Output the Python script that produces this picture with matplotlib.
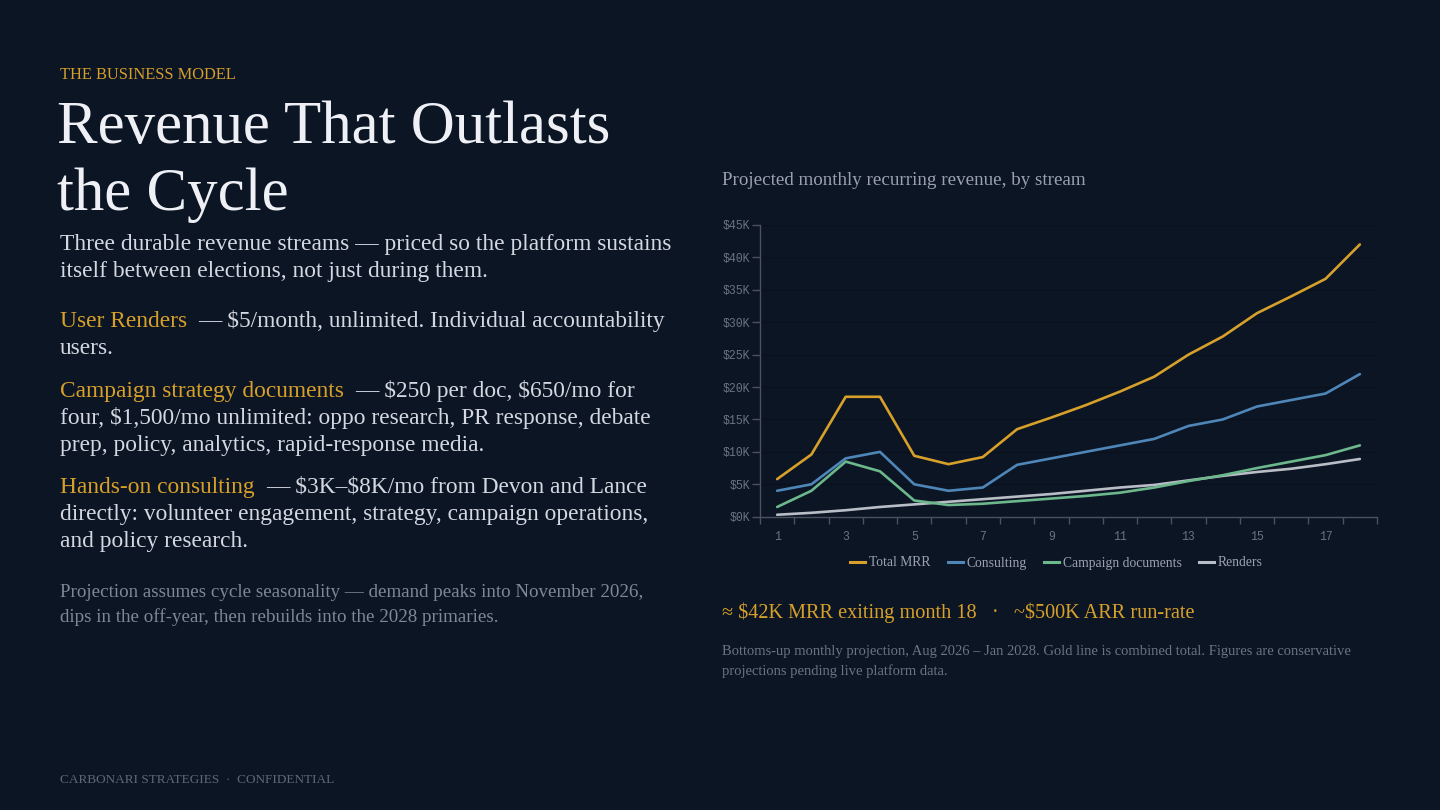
import matplotlib
matplotlib.use("Agg")
import matplotlib.pyplot as plt
from matplotlib.ticker import FuncFormatter, FixedLocator
from matplotlib.lines import Line2D

# ---------------- data ----------------
months = list(range(1, 19))
consulting = [4.0, 5.0, 9.0, 10.0, 5.0, 4.0, 4.5, 8.0, 9.0, 10.0, 11.0, 12.0, 14.0, 15.0, 17.0, 18.0, 19.0, 22.0]
campaign_docs = [1.5, 4.0, 8.5, 7.0, 2.5, 1.8, 2.0, 2.4, 2.8, 3.2, 3.7, 4.5, 5.5, 6.4, 7.5, 8.5, 9.5, 11.0]
renders = [0.3, 0.6, 1.0, 1.5, 1.9, 2.3, 2.7, 3.1, 3.5, 4.0, 4.5, 4.9, 5.6, 6.3, 6.9, 7.4, 8.1, 8.9]
total_mrr = [5.8, 9.6, 18.5, 18.5, 9.4, 8.1, 9.2, 13.5, 15.3, 17.2, 19.3, 21.6, 25.0, 27.8, 31.4, 34.0, 36.7, 42.0]
series_names = ["Total MRR", "Consulting", "Campaign documents", "Renders"]
y_ticks = [0, 5, 10, 15, 20, 25, 30, 35, 40, 45]
x_label_months = [1, 3, 5, 7, 9, 11, 13, 15, 17]

# ---------------- style ----------------
BG = "#0c1524"
GOLD = "#d6a02a"
BLUE = "#4f86b8"
GREEN = "#6cb88c"
GRAY = "#b9bdc6"
SERIF = ["Liberation Serif", "DejaVu Serif"]
MONO = ["Liberation Mono", "DejaVu Sans Mono"]

W, H = 1440, 810
fig = plt.figure(figsize=(W / 100, H / 100), dpi=100, facecolor=BG)


def fy(y):
    return 1 - y / H


def fx(x):
    return x / W


def txt(x, y, s, size, color, **kw):
    return fig.text(fx(x), fy(y), s, fontsize=size, color=color, family=SERIF,
                    va="baseline", ha=kw.pop("ha", "left"), parse_math=False, **kw)


renderer = fig.canvas.get_renderer()

# ---------------- left column ----------------
txt(60, 79, "THE BUSINESS MODEL", 11.8, GOLD)
txt(57, 143, "Revenue That Outlasts", 43.8, "#eef0f5")
txt(57, 210, "the Cycle", 43.8, "#eef0f5")
txt(60, 250, "Three durable revenue streams — priced so the platform sustains", 16.9, "#d3d8e1")
txt(60, 277, "itself between elections, not just during them.", 16.9, "#d3d8e1")

BODY = "#d3d8e1"
bullets = [
    ("User Renders", ["— $5/month, unlimited. Individual accountability", "users."], 327),
    ("Campaign strategy documents", ["— $250 per doc, $650/mo for",
                                     "four, $1,500/mo unlimited: oppo research, PR response, debate",
                                     "prep, policy, analytics, rapid-response media."], 397),
    ("Hands-on consulting", ["— $3K–$8K/mo from Devon and Lance",
                             "directly: volunteer engagement, strategy, campaign operations,",
                             "and policy research."], 493),
]
for head, lines, yb in bullets:
    t = txt(60, yb, head, 16.8, GOLD)
    bb = t.get_window_extent(renderer=renderer)
    txt(bb.x1 + 11, yb, lines[0], 16.8, BODY)
    for i, ln in enumerate(lines[1:], start=1):
        txt(60, yb + 27 * i, ln, 16.8, BODY)

txt(60, 597, "Projection assumes cycle seasonality — demand peaks into November 2026,", 13.7, "#7f8896")
txt(60, 622, "dips in the off-year, then rebuilds into the 2028 primaries.", 13.7, "#7f8896")

txt(60, 783, "CARBONARI STRATEGIES  ·  CONFIDENTIAL", 9.5, "#5f6877")

# ---------------- right column text ----------------
txt(722, 185, "Projected monthly recurring revenue, by stream", 13.7, "#9aa2ae")
txt(722, 618, "≈ $42K MRR exiting month 18   ·   ~$500K ARR run-rate", 14.6, GOLD)
txt(722, 655, "Bottoms-up monthly projection, Aug 2026 – Jan 2028. Gold line is combined total. Figures are conservative",
    10.5, "#6b7482")
txt(722, 675, "projections pending live platform data.", 10.5, "#6b7482")

# ---------------- chart ----------------
x0, x1 = 760, 1377
y0, y1 = 516.7, 225
ax = fig.add_axes([fx(x0), fy(y0), (x1 - x0) / W, (y0 - y1) / H])
ax.set_facecolor(BG)
ax.set_xlim(-0.5, len(months) - 0.5)
ax.set_ylim(0, 45)

xs = list(range(len(months)))
series = [(total_mrr, GOLD), (consulting, BLUE), (campaign_docs, GREEN), (renders, GRAY)]
for (vals, col), name, z in zip(series, series_names, [6, 5, 4, 3]):
    ax.plot(xs, vals, color=col, lw=1.9, solid_joinstyle="round", solid_capstyle="round", zorder=z, label=name)

ax.yaxis.set_major_locator(FixedLocator(y_ticks))
ax.yaxis.set_major_formatter(FuncFormatter(lambda v, p: f"${int(v)}K"))
ax.grid(axis="y", color="#0a111d", lw=1.0, zorder=0)
ax.set_axisbelow(True)

label_pos = [months.index(m) for m in x_label_months]
ax.xaxis.set_major_locator(FixedLocator(label_pos))
ax.set_xticklabels([str(m) for m in x_label_months])
ax.xaxis.set_minor_locator(FixedLocator([i - 0.5 for i in range(len(months) + 1)]))

AXC = "#4a5262"
for s in ["top", "right"]:
    ax.spines[s].set_visible(False)
for s in ["left", "bottom"]:
    ax.spines[s].set_color(AXC)
    ax.spines[s].set_linewidth(1.0)

ax.tick_params(axis="y", length=6, width=1, color=AXC, labelcolor="#6b7381", labelsize=8.3, pad=1)
ax.tick_params(axis="x", which="major", length=0, labelcolor="#6b7381", labelsize=8.3, pad=10)
ax.tick_params(axis="x", which="minor", length=5, width=1, color=AXC)
for lab in ax.get_xticklabels() + ax.get_yticklabels():
    lab.set_family(MONO)

# ---------------- legend (baseline aligned) ----------------
lx = 850
leg_y_line = 562
leg_y_text = 566.5
for (vals, col), name in zip(series, series_names):
    fig.add_artist(Line2D([fx(lx), fx(lx + 15)], [fy(leg_y_line), fy(leg_y_line)],
                          transform=fig.transFigure, color=col, lw=2.2))
    t = txt(lx + 19, leg_y_text, name, 9.8, "#9aa2ae")
    lx = t.get_window_extent(renderer=renderer).x1 + 17

fig.savefig("out.png", dpi=100, facecolor=BG)
